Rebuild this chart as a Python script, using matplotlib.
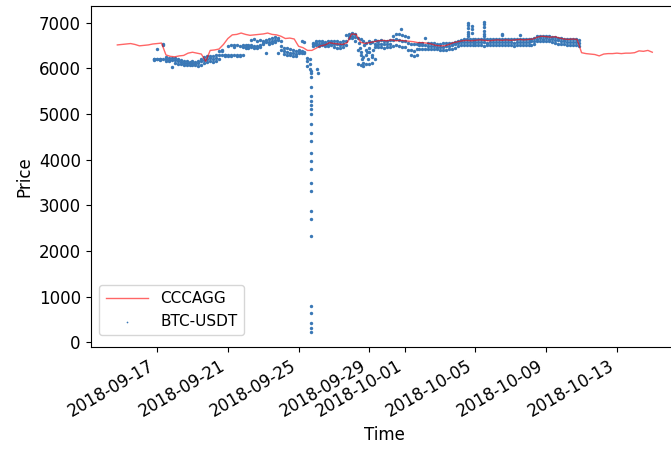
import numpy as np
import pandas as pd
import matplotlib
matplotlib.use("Agg")
import matplotlib.pyplot as plt

plt.rcParams["font.size"] = 12

# CCCAGG reference price, one value every 6 hours from 2018-09-14 18:00
cccagg_start = "2018-09-14 18:00"
cccagg_price = [
    6510, 6520, 6530, 6540, 6520, 6490, 6500, 6510, 6530, 6540, 6550, 6290,
    6260, 6250, 6270, 6280, 6330, 6350, 6330, 6310, 6150, 6390, 6400, 6420,
    6520, 6650, 6730, 6740, 6770, 6740, 6720, 6730, 6740, 6750, 6770, 6740,
    6730, 6700, 6650, 6660, 6640, 6480, 6450, 6390, 6390, 6440, 6490, 6510,
    6560, 6540, 6530, 6520, 6560, 6750, 6740, 6570, 6540, 6560, 6580, 6600,
    6610, 6600, 6620, 6600, 6610, 6600, 6590, 6580, 6560, 6560, 6550, 6530,
    6500, 6490, 6490, 6520, 6560, 6580, 6600, 6610, 6600, 6610, 6620, 6610,
    6600, 6610, 6620, 6610, 6620, 6610, 6620, 6630, 6620, 6630, 6640, 6680,
    6700, 6690, 6680, 6690, 6660, 6640, 6630, 6640, 6630, 6340, 6320, 6310,
    6300, 6270, 6310, 6320, 6320, 6330, 6320, 6330, 6330, 6340, 6380, 6370,
    6390, 6350,
]

# BTC-USDT trades, three price levels every 4 hours from 2018-09-16 20:00
btc_start = "2018-09-16 20:00"
btc_hi = [
    6210,
    6425, 6210, 6530, 6240, 6230, 6220,
    6220, 6200, 6180, 6160, 6150, 6140,
    6150, 6140, 6160, 6200, 6250, 6270,
    6270, 6260, 6280, 6380, 6390, 6300,
    6480, 6500, 6510, 6500, 6490, 6500,
    6500, 6510, 6620, 6630, 6600, 6620,
    6600, 6610, 6640, 6660, 6680, 6670,
    6600, 6450, 6440, 6420, 6400, 6380,
    6400, 6600, 6580, 6230, 6200, 6560,
    6600, 6590, 6600, 6580, 6590, 6600,
    6600, 6590, 6580, 6600, 6720, 6750,
    6760, 6740, 6670, 6650, 6600, 6560,
    6600, 6580, 6620, 6600, 6610, 6600,
    6600, 6610, 6700, 6740, 6750, 6720,
    6700, 6680, 6530, 6520, 6540, 6560,
    6560, 6670, 6560, 6550, 6550, 6540,
    6540, 6550, 6550, 6560, 6560, 6580,
    6600, 6620, 6640, 6640, 6640, 6640,
    6640, 6650, 6640, 6640, 6630, 6640,
    6640, 6650, 6640, 6640, 6650, 6640,
    6640, 6630, 6640, 6650, 6640, 6640,
    6640, 6650, 6660, 6700, 6710, 6700,
    6710, 6700, 6690, 6680, 6670, 6660,
    6650, 6640, 6640, 6640, 6630, 6620,
]
btc_mid = [
    6200,
    6200, 6200, 6500, 6200, 6190, 6180,
    6170, 6150, 6130, 6120, 6110, 6110,
    6110, 6100, 6110, 6150, 6190, 6210,
    6220, 6200, 6230, 6300, 6370, 6290,
    6300, 6290, 6460, 6300, 6290, 6470,
    6470, 6480, 6500, 6490, 6480, 6500,
    6560, 6570, 6580, 6600, 6620, 6610,
    6480, 6380, 6360, 6340, 6330, 6320,
    6360, 6380, 6350, 6150, 6100, 6520,
    6550, 6540, 6550, 6540, 6540, 6550,
    6530, 6520, 6510, 6540, 6600, 6700,
    6700, 6690, 6400, 6300, 6250, 6300,
    6350, 6250, 6530, 6530, 6540, 6520,
    6530, 6540, 6620, 6640, 6620, 6600,
    6600, 6560, 6400, 6380, 6420, 6500,
    6500, 6500, 6490, 6480, 6480, 6470,
    6470, 6470, 6480, 6490, 6500, 6520,
    6560, 6570, 6580, 6570, 6570, 6570,
    6570, 6580, 6570, 6570, 6560, 6570,
    6570, 6580, 6570, 6570, 6580, 6570,
    6570, 6560, 6570, 6580, 6570, 6570,
    6580, 6590, 6600, 6650, 6660, 6650,
    6660, 6650, 6640, 6620, 6610, 6600,
    6590, 6580, 6580, 6570, 6570, 6560,
]
btc_lo = [
    6190,
    6200, 6190, 6200, 6160, 6150, 6020,
    6120, 6100, 6090, 6080, 6080, 6070,
    6070, 6060, 6050, 6080, 6120, 6140,
    6150, 6130, 6150, 6200, 6280, 6270,
    6270, 6270, 6280, 6270, 6260, 6280,
    6450, 6450, 6460, 6450, 6440, 6460,
    6530, 6340, 6540, 6550, 6580, 6340,
    6400, 6310, 6290, 6280, 6270, 6270,
    6330, 6340, 6330, 6050, 5990, 6490,
    6500, 6490, 6500, 6490, 6490, 6500,
    6460, 6450, 6450, 6470, 6500, 6670,
    6670, 6600, 6100, 6060, 6050, 6100,
    6100, 6120, 6460, 6460, 6470, 6450,
    6460, 6460, 6480, 6500, 6480, 6470,
    6460, 6400, 6280, 6270, 6300, 6430,
    6430, 6430, 6420, 6420, 6420, 6410,
    6400, 6390, 6400, 6410, 6420, 6440,
    6480, 6500, 6510, 6500, 6500, 6500,
    6500, 6510, 6500, 6490, 6500, 6500,
    6500, 6510, 6500, 6500, 6510, 6500,
    6500, 6490, 6500, 6510, 6500, 6500,
    6510, 6510, 6520, 6590, 6600, 6590,
    6600, 6590, 6570, 6560, 6540, 6530,
    6520, 6510, 6510, 6500, 6500, 6490,
]

# isolated BTC-USDT trades: the 09-25 crash, the 09-28 swing and the spikes
btc_extra_time = [
    "2018-09-25 16:30", "2018-09-25 16:30", "2018-09-25 16:30", "2018-09-25 16:30",
    "2018-09-25 16:30", "2018-09-25 16:30", "2018-09-25 16:30", "2018-09-25 16:30",
    "2018-09-25 16:30", "2018-09-25 16:30", "2018-09-25 16:30", "2018-09-25 16:30",
    "2018-09-25 16:30", "2018-09-25 16:30", "2018-09-25 16:30", "2018-09-25 16:30",
    "2018-09-25 16:30", "2018-09-25 16:30", "2018-09-25 16:30", "2018-09-25 16:30",
    "2018-09-25 16:30", "2018-09-25 16:30", "2018-09-25 16:30", "2018-09-25 16:30",
    "2018-09-25 16:30", "2018-09-26 00:30", "2018-09-26 02:00",
    "2018-09-28 10:00", "2018-09-28 11:00", "2018-09-28 13:00", "2018-09-28 14:30",
    "2018-09-28 16:00", "2018-09-28 17:00", "2018-09-28 19:00", "2018-09-28 20:30",
    "2018-09-28 22:00", "2018-09-29 00:00", "2018-09-29 01:00", "2018-09-29 03:00",
    "2018-09-29 05:00", "2018-09-29 07:00", "2018-09-29 08:30", "2018-09-29 10:00",
    "2018-09-30 19:00",
    "2018-10-04 14:00", "2018-10-04 14:00", "2018-10-04 14:00", "2018-10-04 14:00",
    "2018-10-04 14:00", "2018-10-04 14:00", "2018-10-04 19:00", "2018-10-04 19:00",
    "2018-10-04 19:00", "2018-10-05 12:00", "2018-10-05 12:00", "2018-10-05 12:00",
    "2018-10-05 12:00", "2018-10-05 12:00", "2018-10-05 12:00", "2018-10-06 12:00",
    "2018-10-06 12:00", "2018-10-07 12:00",
]
btc_extra_price = [
    5950, 5900, 5800, 5600, 5400, 5290, 5200, 5100, 5000, 4780,
    4580, 4410, 4150, 3970, 3790, 3490, 3310, 2870, 2700, 2320,
    790, 640, 420, 310, 240, 5990, 5900,
    6550, 6450, 6350, 6200, 6120, 6500, 6400, 6350, 6200, 6450,
    6550, 6300, 6400, 6200, 6500, 6600,
    6860,
    7000, 6950, 6880, 6800, 6750, 6700, 6930, 6850, 6780,
    7020, 6960, 6900, 6820, 6750, 6700, 6750, 6720, 6720,
]

cccagg_time = pd.date_range(cccagg_start, periods=len(cccagg_price), freq="6h")
btc_time = pd.date_range(btc_start, periods=len(btc_hi), freq="4h")
extra_time = pd.to_datetime(btc_extra_time)

fig = plt.figure(figsize=(6.71, 4.53), dpi=100)
ax = fig.add_subplot(111)

ax.plot(cccagg_time, cccagg_price, color="red", alpha=0.6, lw=1, label="CCCAGG")
btc_t = np.concatenate([btc_time, btc_time, btc_time, extra_time])
btc_p = np.concatenate([btc_hi, btc_mid, btc_lo, btc_extra_price])
ax.scatter(btc_t, btc_p, s=6, color="#3a78b6", linewidths=0, label="BTC-USDT")

ax.set_xlabel("Time")
ax.set_ylabel("Price")
ax.legend(loc="lower left", bbox_to_anchor=(0.015, 0.035), borderaxespad=0,
          handlelength=2.8, markerscale=0.5, fontsize=11)
fig.autofmt_xdate()
ax.set_position([0.135, 0.234, 0.877, 0.7525])

fig.savefig("out.png", dpi=100)
